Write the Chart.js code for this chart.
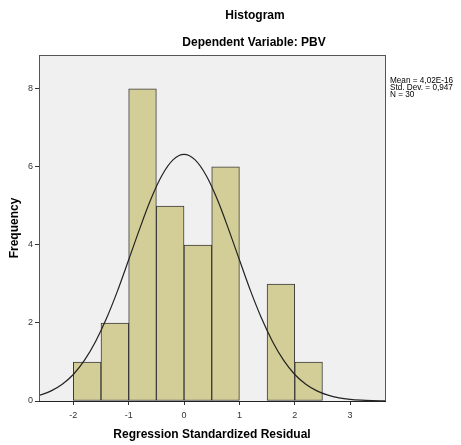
<!DOCTYPE html>
<html>
<head>
<meta charset="utf-8">
<script src="https://cdn.jsdelivr.net/npm/chart.js@4.4.1/dist/chart.umd.min.js"></script>
<style>
  html, body { margin: 0; padding: 0; background: #fff; }
  #wrap { width: 461px; height: 445px; }
</style>
</head>
<body>
<div id="wrap"><canvas id="chart1" width="461" height="445"></canvas></div>
<script>
// histogram bins (bin centres, width 0.5)
const binCenters = [-1.75, -1.25, -0.75, -0.25, 0.25, 0.75, 1.25, 1.75, 2.25];
const frequencies = [1, 2, 8, 5, 4, 6, 0, 3, 1];

// normal curve
const curveX = [-2.62, -2.4, -2.2, -2.0, -1.8, -1.6, -1.4, -1.2, -1.0, -0.8, -0.6, -0.4, -0.2, 0,
    0.2, 0.4, 0.6, 0.8, 1.0, 1.2, 1.4, 1.6, 1.8, 2.0, 2.2, 2.4, 2.6, 2.8, 3.0, 3.2, 3.4, 3.63];
const curveY = [0.14, 0.26, 0.43, 0.68, 1.04, 1.52, 2.12, 2.83, 3.62, 4.42, 5.17, 5.78, 6.18, 6.32,
    6.18, 5.78, 5.17, 4.42, 3.62, 2.83, 2.12, 1.52, 1.04, 0.68, 0.43, 0.26, 0.15, 0.08, 0.04, 0.02, 0.01, 0.005];

const xTicks = [-2, -1, 0, 1, 2, 3];
const yTicks = [0, 2, 4, 6, 8];

const statsLines = ['Mean = 4,02E-16', 'Std. Dev. = 0,947', 'N = 30'];

const FONT = '"Liberation Sans", Arial, sans-serif';

const frame = {
    id: 'frame',
    beforeDatasetsDraw(chart) {
        const { ctx, chartArea: a } = chart;
        ctx.save();
        ctx.fillStyle = '#f0f0f0';
        ctx.fillRect(a.left, a.top, a.right - a.left, a.bottom - a.top);
        ctx.restore();
    },
    afterDraw(chart) {
        const { ctx, chartArea: a } = chart;
        ctx.save();
        ctx.strokeStyle = '#555';
        ctx.lineWidth = 1;
        ctx.strokeRect(a.left + 0.5, a.top + 0.5, a.right - a.left, a.bottom - a.top);
        ctx.strokeStyle = '#222';
        ctx.beginPath();
        ctx.moveTo(a.left, a.bottom + 0.5);
        ctx.lineTo(a.right + 1, a.bottom + 0.5);
        ctx.stroke();

        ctx.fillStyle = '#000';
        ctx.textAlign = 'center';
        ctx.textBaseline = 'middle';
        ctx.font = 'bold 12px ' + FONT;
        ctx.fillText('Histogram', 255, 16);
        ctx.fillText('Dependent Variable: PBV', 254, 43);
        ctx.fillText('Regression Standardized Residual', (a.left + a.right) / 2, 435);
        ctx.save();
        ctx.translate(15, (a.top + a.bottom) / 2);
        ctx.rotate(-Math.PI / 2);
        ctx.fillText('Frequency', 0, 0);
        ctx.restore();

        ctx.font = '8.2px ' + FONT;
        ctx.textAlign = 'left';
        ctx.textBaseline = 'alphabetic';
        statsLines.forEach((t, i) => ctx.fillText(t, 390, 83 + i * 6.8));
        ctx.restore();
    }
};

const ctx1 = document.getElementById('chart1').getContext('2d');
const chart1 = new Chart(ctx1, {
    data: {
        datasets: [{
            type: 'line',
            data: curveX.map((x, i) => ({ x: x, y: curveY[i] })),
            borderColor: '#222',
            borderWidth: 1.2,
            pointRadius: 0,
            fill: false,
            cubicInterpolationMode: 'monotone',
            order: 0
        }, {
            type: 'bar',
            data: binCenters.map((x, i) => ({ x: x, y: frequencies[i] })),
            backgroundColor: '#d3ce97',
            borderColor: '#3a3a3a',
            borderWidth: 1,
            borderSkipped: false,
            barPercentage: 1,
            categoryPercentage: 1,
            order: 1
        }]
    },
    options: {
        responsive: false,
        animation: false,
        layout: { padding: { left: 0, right: 76, top: 55, bottom: 0 } },
        plugins: {
            legend: { display: false },
            tooltip: { enabled: false }
        },
        scales: {
            x: {
                type: 'linear',
                offset: false,
                min: -2.62,
                max: 3.63,
                afterFit: (s) => { s.height = 44; },
                afterBuildTicks: (s) => { s.ticks = xTicks.map(v => ({ value: v })); },
                grid: { offset: false, drawOnChartArea: false, drawTicks: true, tickLength: 4, color: '#333' },
                border: { display: false },
                ticks: { font: { family: FONT, size: 9 }, color: '#333', padding: 5, maxRotation: 0 }
            },
            y: {
                min: 0,
                max: 8.87,
                afterFit: (s) => { s.width = 39; },
                afterBuildTicks: (s) => { s.ticks = yTicks.map(v => ({ value: v })); },
                grid: { drawOnChartArea: false, drawTicks: true, tickLength: 4, color: '#333' },
                border: { display: false },
                ticks: { font: { family: FONT, size: 9 }, color: '#333', padding: 2 }
            }
        }
    },
    plugins: [frame]
});
</script>
</body>
</html>
